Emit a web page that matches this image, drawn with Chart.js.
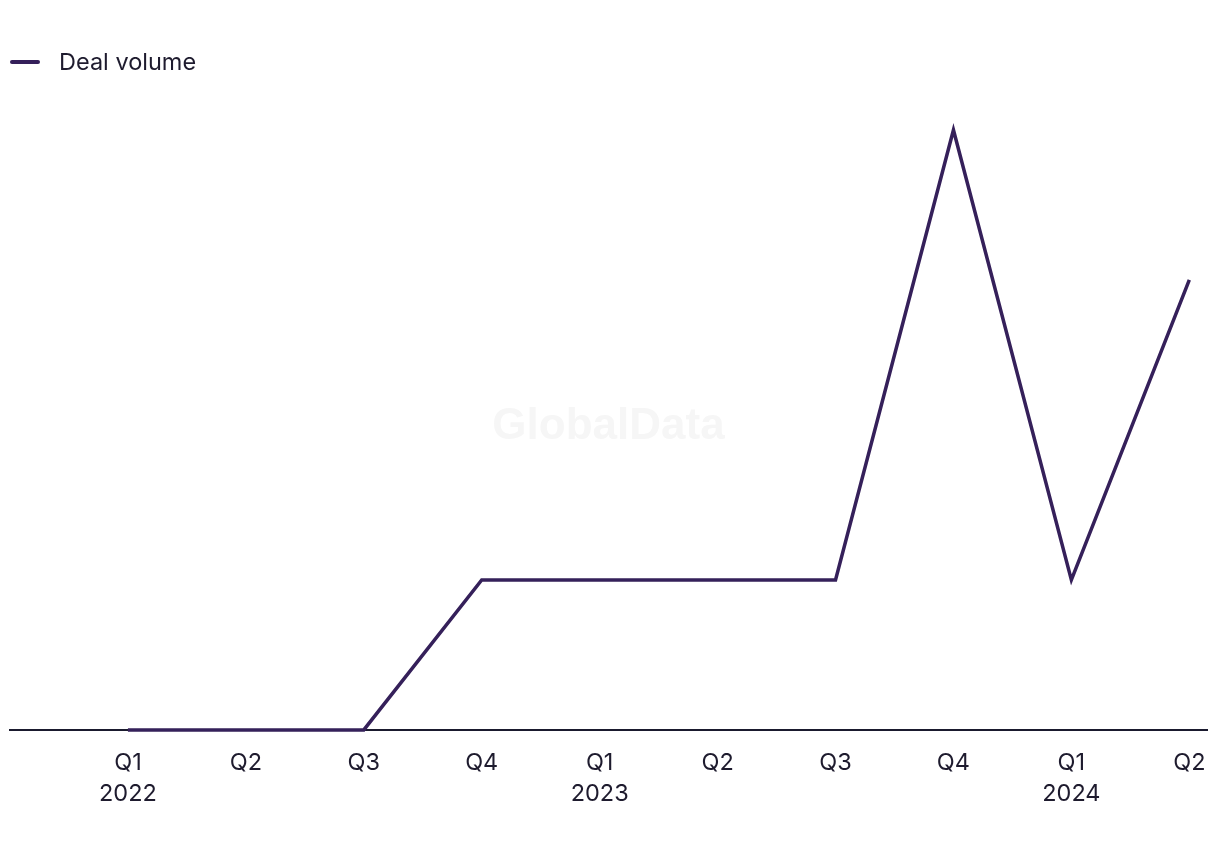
<!DOCTYPE html>
<html>
<head>
<meta charset="utf-8">
<script src="https://cdn.jsdelivr.net/npm/chart.js@4.4.1/dist/chart.umd.min.js"></script>
<style>
  html, body { margin: 0; padding: 0; background: #fff; }
  #wrap { position: relative; width: 1220px; height: 850px; }
  #legend {
    position: absolute; left: 10px; top: 47px;
    font-family: Inter, "Liberation Sans", sans-serif; font-size: 23.5px; color: #1e1b2e;
    display: flex; align-items: center;
  }
  #legend .swatch { width: 30px; height: 4px; background: #35205a; border-radius: 2px; margin-right: 19px; }
</style>
</head>
<body>
<div id="wrap">
  <canvas id="chart" width="1220" height="850"></canvas>
  <div id="legend"><span class="swatch"></span><span>Deal volume</span></div>
</div>
<script>
const QUARTERS = ['Q1', 'Q2', 'Q3', 'Q4', 'Q1', 'Q2', 'Q3', 'Q4', 'Q1', 'Q2'];
const YEARS = ['2022', '', '', '', '2023', '', '', '', '2024', ''];
const DEAL_VOLUME = [0, 0, 0, 1, 1, 1, 1, 4, 1, 3];

const LINE_COLOR = '#35205a';
const TEXT_COLOR = '#1e1b2e';

// faint watermark in the middle of the plot
const watermark = {
    id: 'watermark',
    beforeDatasetsDraw(chart) {
        const { ctx, chartArea } = chart;
        ctx.save();
        ctx.font = 'bold 44px "Liberation Sans", Arial, sans-serif';
        ctx.fillStyle = '#f6f6f6';
        ctx.textAlign = 'center';
        ctx.textBaseline = 'middle';
        ctx.fillText('GlobalData', (chartArea.left + chartArea.right) / 2, 427);
        ctx.restore();
    }
};

const ctx = document.getElementById('chart').getContext('2d');
new Chart(ctx, {
    type: 'line',
    data: {
        datasets: [{
            label: 'Deal volume',
            data: DEAL_VOLUME.map((v, i) => ({ x: i, y: v })),
            borderColor: LINE_COLOR,
            borderWidth: 3.5,
            pointRadius: 0,
            tension: 0,
            fill: false,
            clip: false
        }]
    },
    options: {
        responsive: false,
        animation: false,
        layout: { padding: { top: 100, left: 10, right: 13, bottom: 23 } },
        plugins: {
            legend: { display: false },
            tooltip: { enabled: false }
        },
        scales: {
            x: {
                type: 'linear',
                min: -1,
                max: 9.15,
                afterBuildTicks: axis => {
                    axis.ticks = QUARTERS.map((_, i) => ({ value: i }));
                },
                // let the last label hang into the layout padding
                afterFit: axis => {
                    axis.paddingLeft = 0;
                    axis.paddingRight = 0;
                },
                ticks: {
                    autoSkip: false,
                    maxRotation: 0,
                    padding: 18,
                    color: TEXT_COLOR,
                    font: { family: 'Inter, "Liberation Sans", sans-serif', size: 23.5, lineHeight: 1.3 },
                    callback: v => YEARS[v] ? [QUARTERS[v], YEARS[v]] : QUARTERS[v]
                },
                grid: { display: false, drawTicks: false },
                border: { display: true, color: '#1a1a2e', width: 2 }
            },
            y: {
                display: false,
                min: 0,
                max: 4.2
            }
        }
    },
    plugins: [watermark]
});
</script>
</body>
</html>
